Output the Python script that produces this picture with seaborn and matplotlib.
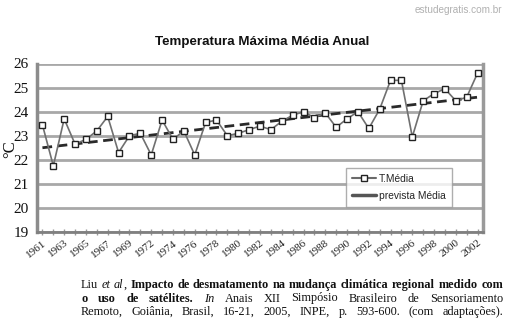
import numpy as np
import pandas as pd
import matplotlib
matplotlib.use("Agg")
import matplotlib.pyplot as plt
from matplotlib.transforms import IdentityTransform, ScaledTranslation
from matplotlib.lines import Line2D
import seaborn as sns

# Annual series (the 1971 record is absent from the source)
years = [1961, 1962, 1963, 1964, 1965, 1966, 1967, 1968, 1969, 1970,
         1972, 1973, 1974, 1975, 1976, 1977, 1978, 1979, 1980, 1981,
         1982, 1983, 1984, 1985, 1986, 1987, 1988, 1989, 1990, 1991,
         1992, 1993, 1994, 1995, 1996, 1997, 1998, 1999, 2000, 2001, 2002]
t_media = [23.45, 21.75, 23.7, 22.65, 22.85, 23.2, 23.8, 22.3, 23.0, 23.1,
           22.2, 23.65, 22.85, 23.2, 22.2, 23.55, 23.65, 23.0, 23.1, 23.25,
           23.4, 23.25, 23.6, 23.85, 24.0, 23.75, 23.95, 23.35, 23.7, 24.0,
           23.3, 24.1, 25.3, 25.3, 22.95, 24.45, 24.75, 24.95, 24.45, 24.6, 25.6]
# Linear trend ("prevista Média") at the first and last year
trend_years = [1961, 2002]
trend_vals = [22.5, 24.6]

y_ticks = [19, 20, 21, 22, 23, 24, 25, 26]
title = "Temperatura Máxima Média Anual"
y_label = "°C"
watermark = "estudegratis.com.br"

W, H = 506, 327
sns.set_theme(style="white")
plt.rcParams["font.family"] = ["Liberation Sans", "DejaVu Sans"]

fig = plt.figure(figsize=(W / 100, H / 100), dpi=100)
fig.patch.set_facecolor("white")
ax = fig.add_axes([37 / W, 1 - 232 / H, (483 - 37) / W, (232 - 63.5) / H])
ax.set_facecolor("white")

pos = np.arange(len(years))
df = pd.DataFrame({"pos": pos, "val": t_media})
trend_pos = [years.index(y) for y in trend_years]
df_trend = pd.DataFrame({"pos": trend_pos, "val": trend_vals})

# horizontal gridlines
for v in y_ticks:
    ax.axhline(v, color="#a8a8a8", lw=2.0, zorder=0)

sns.lineplot(data=df_trend, x="pos", y="val", ax=ax, color="#2a2a2a",
             lw=2.0, linestyle=(0, (3.5, 2)), zorder=3, label="_nolegend_")
sns.lineplot(data=df, x="pos", y="val", ax=ax, color="#707070", lw=1.2,
             marker="s", markersize=4.6, markerfacecolor="white",
             markeredgecolor="#222222", markeredgewidth=1.0, zorder=4,
             label="_nolegend_")

ax.set_xlim(-0.5, len(years) - 0.5)
ax.set_ylim(19, 26)
ax.set_yticks(y_ticks)
ax.set_yticklabels([str(v) for v in y_ticks], family="Liberation Serif",
                   fontsize=11)
ax.set_xticks(pos)
ax.set_xticklabels([str(y) if i % 2 == 0 else "" for i, y in enumerate(years)],
                   family="Liberation Serif", fontsize=8.0, rotation=38,
                   ha="right", rotation_mode="anchor")
shift = ScaledTranslation(-4 / 100, -3 / 100, fig.dpi_scale_trans)
for lab in ax.get_xticklabels():
    lab.set_transform(lab.get_transform() + shift)
ax.tick_params(axis="x", direction="inout", length=5, width=1.0,
               colors="#999999", labelcolor="#222222", pad=2, bottom=True)
ax.tick_params(axis="y", direction="inout", length=0, pad=6,
               labelcolor="#111111")
ax.set_xlabel("")
ax.set_ylabel("")
fig.text(10 / W, 1 - 149 / H, y_label, rotation=90, ha="center", va="center",
         family="Liberation Serif", fontsize=12, color="#111111")

ax.spines["top"].set_visible(False)
ax.spines["left"].set_color("#8c8c8c")
ax.spines["left"].set_linewidth(2.5)
ax.spines["bottom"].set_color("#808080")
ax.spines["bottom"].set_linewidth(2.0)
ax.spines["right"].set_color("#9a9a9a")
ax.spines["right"].set_linewidth(2.5)

handles = [
    Line2D([], [], color="#6a6a6a", lw=1.5, marker="s", markersize=5,
           markerfacecolor="white", markeredgecolor="#222222"),
    Line2D([], [], color="#555555", lw=2.5),
]
leg = ax.legend(handles, ["T.Média", "prevista Média"], loc="lower right",
                bbox_to_anchor=(0.93, 0.15), fontsize=7.4, frameon=True,
                fancybox=False, handlelength=2.3, handletextpad=0.3,
                borderpad=0.6, labelspacing=0.65, borderaxespad=0)
leg.get_frame().set_edgecolor("#9a9a9a")
leg.get_frame().set_linewidth(1.0)

fig.text(262 / W, 1 - 42 / H, title, ha="center", va="center",
         fontsize=9.6, fontweight="bold", color="#111111")
fig.text(502 / W, 1 - 10 / H, watermark, ha="right", va="center",
         fontsize=7.2, color="#b0b0b0")

# Justified reference text below the chart
ref_lines = [
    [[("Liu", "r")], [("et", "i")], [("al", "i"), (",", "r")],
     [("Impacto", "b")], [("de", "b")], [("desmatamento", "b")], [("na", "b")],
     [("mudança", "b")], [("climática", "b")], [("regional", "b")],
     [("medido", "b")], [("com", "b")]],
    [[("o", "b")], [("uso", "b")], [("de", "b")], [("satélites.", "b")],
     [("In", "i")], [("Anais", "r")], [("XII", "r")], [("Simpósio", "r")],
     [("Brasileiro", "r")], [("de", "r")], [("Sensoriamento", "r")]],
    [[("Remoto,", "r")], [("Goiânia,", "r")], [("Brasil,", "r")],
     [("16-21,", "r")], [("2005,", "r")], [("INPE,", "r")], [("p.", "r")],
     [("593-600.", "r")], [("(com", "r")], [("adaptações).", "r")]],
]
line_y = [285, 298.5, 312]
x_left, x_right = 81, 503
fig.canvas.draw()
renderer = fig.canvas.get_renderer()
for words, yy in zip(ref_lines, line_y):
    items = []
    for word in words:
        frags = []
        for txt, st in word:
            t = fig.text(0, 0, txt, transform=IdentityTransform(),
                         family="Liberation Serif", fontsize=8.8,
                         fontweight="bold" if st == "b" else "normal",
                         fontstyle="italic" if st == "i" else "normal",
                         color="#111111", va="baseline", ha="left")
            w = t.get_window_extent(renderer).width
            frags.append((t, w))
        items.append(frags)
    total = sum(w for frags in items for _, w in frags)
    gap = (x_right - x_left - total) / (len(items) - 1)
    x = x_left
    for frags in items:
        for t, w in frags:
            t.set_position((x, H - yy - 3))
            x += w
        x += gap

fig.savefig("out.png", dpi=100, facecolor="white")
